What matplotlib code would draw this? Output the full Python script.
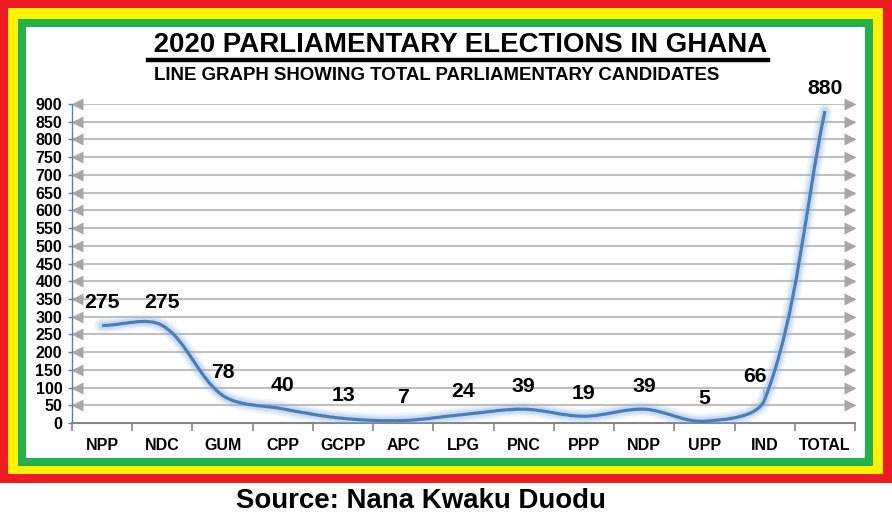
import numpy as np
import matplotlib
matplotlib.use("Agg")
import matplotlib.pyplot as plt
from matplotlib.patches import Rectangle, PathPatch
from matplotlib.path import Path
from matplotlib.lines import Line2D
import matplotlib.transforms as mtransforms

plt.rcParams["font.family"] = ["Liberation Sans", "DejaVu Sans"]
plt.rcParams["font.weight"] = "bold"

parties = ["NPP", "NDC", "GUM", "CPP", "GCPP", "APC", "LPG",
           "PNC", "PPP", "NDP", "UPP", "IND", "TOTAL"]
candidates = [275, 275, 78, 40, 13, 7, 24, 39, 19, 39, 5, 66, 880]
y_ticks = list(range(0, 901, 50))

TITLE = " 2020 PARLIAMENTARY ELECTIONS IN GHANA"
SUBTITLE = "LINE GRAPH SHOWING TOTAL PARLIAMENTARY CANDIDATES"
SOURCE = "Source: Nana Kwaku Duodu"

W, H = 892, 524
fig = plt.figure(figsize=(W / 100, H / 100), dpi=100)


def px_rect(x0, y0, x1, y1, color):
    # pixel box (top-left origin) -> figure fraction rectangle
    r = Rectangle((x0 / W, 1 - y1 / H), (x1 - x0) / W, (y1 - y0) / H,
                  transform=fig.transFigure, facecolor=color,
                  edgecolor="none", zorder=-10)
    fig.add_artist(r)


# Ghana-coloured frame
px_rect(0, 0, 892, 483, "#ED1C24")
px_rect(8, 8, 883, 474, "#FFF200")
px_rect(18, 19, 873, 466, "#22B14C")
px_rect(26, 27, 865, 458, "white")

ax = fig.add_axes([72 / W, 1 - 423 / H, 783 / W, 319 / H])
ax.set_facecolor("none")
x = np.arange(len(parties))
ax.set_xlim(-0.5, len(parties) - 0.5)
ax.set_ylim(0, 900)

# gridlines with arrow heads at both ends
for v in y_ticks[1:]:
    ax.axhline(v, color="#C0C0C0", lw=1.5, zorder=1)
blend = mtransforms.blended_transform_factory(ax.transAxes, ax.transData)
ax.plot([0.006] * (len(y_ticks) - 1), y_ticks[1:], ls="none", marker="<",
        ms=8, color="#A6A6A6", mec="none", transform=blend, clip_on=False, zorder=2)
ax.plot([0.993] * (len(y_ticks) - 1), y_ticks[1:], ls="none", marker=">",
        ms=8, color="#A6A6A6", mec="none", transform=blend, clip_on=False, zorder=2)

# smoothed line (Excel-style bezier), built in display space
pts = ax.transData.transform(np.column_stack([x, candidates]))
n = len(pts)
verts = [pts[0]]
codes = [Path.MOVETO]
seg = np.hypot(*np.diff(pts, axis=0).T)


def ctrl(i):
    prev_p = pts[max(i - 1, 0)]
    next_p = pts[min(i + 1, n - 1)]
    d0 = seg[i - 1] if i > 0 else 0.0
    d1 = seg[i] if i < n - 1 else 0.0
    t = next_p - prev_p
    tot = d0 + d1
    return pts[i] - t * d0 / tot / 3, pts[i] + t * d1 / tot / 3


for i in range(n - 1):
    _, c1 = ctrl(i)
    c2, _ = ctrl(i + 1)
    verts += [c1, c2, pts[i + 1]]
    codes += [Path.CURVE4] * 3
inv = ax.transData.inverted()
path = Path(inv.transform(np.array(verts)), codes)

for lw, a in [(11, 0.12), (8, 0.18), (5.5, 0.25)]:
    ax.add_patch(PathPatch(path, fill=False, edgecolor="#8DB3E2", lw=lw,
                           alpha=a, capstyle="round", joinstyle="round", zorder=3))
ax.add_patch(PathPatch(path, fill=False, edgecolor="#4A7EBB", lw=2.3,
                       capstyle="butt", joinstyle="round", zorder=4))

# data labels
for xi, v in zip(x, candidates):
    if parties[xi] == "IND":
        ax.annotate(str(v), (xi, v), xytext=(-7, 16.5), textcoords="offset points",
                    ha="center", va="center", fontsize=15.3, fontweight="bold",
                    arrowprops=dict(arrowstyle="-", color="#A0A0A0", lw=0.7,
                                    relpos=(0.85, 0.0), shrinkA=0, shrinkB=2),
                    zorder=5)
    else:
        ax.annotate(str(v), (xi, v), xytext=(0, 16.5), textcoords="offset points",
                    ha="center", va="center", fontsize=15.3, fontweight="bold",
                    zorder=5)

# axes styling
for s in ["top", "right"]:
    ax.spines[s].set_visible(False)
ax.spines["left"].set_color("#4F81BD")
ax.spines["left"].set_linewidth(1.0)
ax.spines["bottom"].set_color("#868686")
ax.spines["bottom"].set_linewidth(1.5)

ax.set_yticks(y_ticks)
ax.tick_params(axis="y", length=3, width=1, color="#4F81BD", pad=4,
               labelsize=11.5)
ax.set_xticks(x)
ax.set_xticklabels(parties)
ax.set_xticks(np.arange(-0.5, len(parties)), minor=True)
ax.tick_params(axis="x", which="major", length=0, pad=11, labelsize=11.5)
ax.tick_params(axis="x", which="minor", length=6, width=1.2, color="#868686")
for lab in ax.get_xticklabels() + ax.get_yticklabels():
    lab.set_fontweight("bold")

# titles
fig.text(457 / W, 1 - 45 / H, TITLE, ha="center", va="center",
         fontsize=19.9, fontweight="bold")
fig.add_artist(Line2D([148 / W, 768 / W], [1 - 59.5 / H] * 2, color="black",
                      lw=3.2, transform=fig.transFigure))
fig.text(437 / W, 1 - 75.5 / H, SUBTITLE, ha="center", va="center",
         fontsize=13.4, fontweight="bold")
fig.text(421 / W, 1 - 501 / H, SOURCE, ha="center", va="center",
         fontsize=19.9, fontweight="bold")

fig.savefig("out.png", dpi=100, facecolor="white")
